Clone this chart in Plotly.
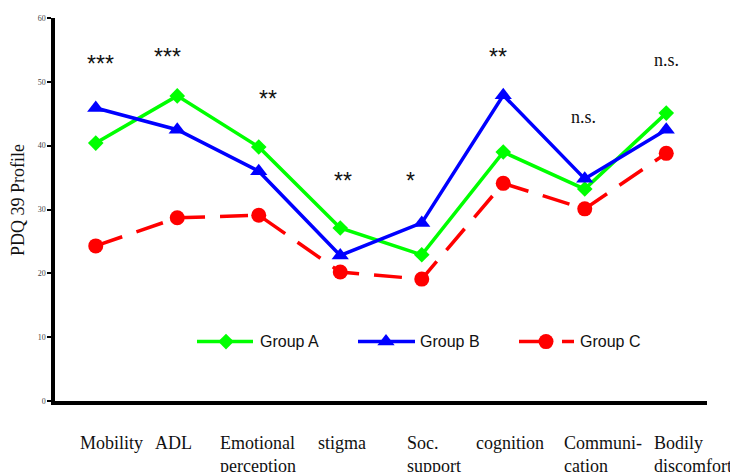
import plotly.graph_objects as go

categories = ["Mobility", "ADL", "Emotional<br>perception", "stigma", "Soc.<br>support",
              "cognition", "Communi-<br>cation", "Bodily<br>discomfort"]
group_a = [40.4, 47.8, 39.8, 27.1, 22.9, 39.0, 33.2, 45.1]
group_b = [45.9, 42.5, 36.0, 22.8, 27.9, 47.9, 34.8, 42.5]
group_c = [24.3, 28.7, 29.1, 20.2, 19.1, 34.1, 30.1, 38.8]
significance = ["***", "***", "**", "**", "*", "**", "n.s.", "n.s."]
sig_y = [53.2, 54.4, 47.8, 35.0, 35.0, 54.4, 44.0, 53.0]
y_ticks = [0, 10, 20, 30, 40, 50, 60]

# layout-only offsets (pixels)
label_xshift = [-18, -24, -41, -24, -17, -29, -23, -14]
sig_xshift = [5, -10, 9, 3, -11, -5, -1, 0]

xs = list(range(len(categories)))

GREEN = "#00FF00"
BLUE = "#0000FF"
RED = "#FF0000"

fig = go.Figure()
fig.add_trace(go.Scatter(x=xs, y=group_a, mode="lines+markers", name="Group A",
                         line=dict(color=GREEN, width=3.5),
                         marker=dict(symbol="diamond", size=12, color=GREEN),
                         showlegend=False))
fig.add_trace(go.Scatter(x=xs, y=group_b, mode="lines+markers", name="Group B",
                         line=dict(color=BLUE, width=3.5),
                         marker=dict(symbol="triangle-up", size=15, color=BLUE),
                         showlegend=False))
fig.add_trace(go.Scatter(x=xs, y=group_c, mode="lines+markers", name="Group C",
                         line=dict(color=RED, width=3.5, dash="28px,15px"),
                         marker=dict(symbol="circle", size=15, color=RED),
                         showlegend=False))

# page body has an 8px margin; plot area spans x 55..707, y 14..401 in the window
L = 55.0
W = 652.0
def fx(px):
    return (px - L) / W
leg_y = (401 - 341) / 387.0
legend_items = [
    ("Group A", GREEN, "diamond", 12, "solid", 197, 253, 226, 258),
    ("Group B", BLUE, "triangle-up", 15, "solid", 358, 415, 386, 418),
    ("Group C", RED, "circle", 15, "28px,15px", 519, 574, 546, 578),
]
for name, col, sym, sz, dash, x0, x1, xm, xt in legend_items:
    fig.add_trace(go.Scatter(x=[fx(x0), fx(x1)], y=[leg_y, leg_y], mode="lines",
                             line=dict(color=col, width=3.5, dash=dash),
                             xaxis="x2", yaxis="y2", showlegend=False, hoverinfo="skip"))
    fig.add_trace(go.Scatter(x=[fx(xm)], y=[leg_y], mode="markers",
                             marker=dict(symbol=sym, size=sz, color=col),
                             xaxis="x2", yaxis="y2", showlegend=False, hoverinfo="skip"))
    fig.add_annotation(x=fx(xt), y=leg_y, xref="x2", yref="y2", text=name,
                       showarrow=False, xanchor="left", yanchor="middle",
                       font=dict(family="Liberation Sans, Arial", size=16, color="#111"))

# category labels
for i, (lab, sh) in enumerate(zip(categories, label_xshift)):
    fig.add_annotation(x=i, y=0, xref="x", yref="paper", text=lab, showarrow=False,
                       xanchor="left", yanchor="top", align="left", xshift=sh, yshift=-30,
                       font=dict(family="Liberation Serif, Times New Roman", size=18, color="#111"))

# significance marks
for i, (s, yy, sh) in enumerate(zip(significance, sig_y, sig_xshift)):
    if s.startswith("*"):
        font = dict(family="Liberation Sans, Arial", size=23, color="#111")
        ysh = -3
    else:
        font = dict(family="Liberation Serif, Times New Roman", size=18, color="#111")
        ysh = 3
    fig.add_annotation(x=i, y=yy, xref="x", yref="y", text=s, showarrow=False,
                       xanchor="center", yanchor="middle", xshift=sh, yshift=ysh, font=font)

# y-axis title
fig.add_annotation(x=fx(18), y=(401 - 198) / 387.0, xref="paper", yref="paper",
                   text="PDQ 39 Profile", textangle=-90, showarrow=False,
                   xanchor="center", yanchor="middle",
                   font=dict(family="Liberation Serif, Times New Roman", size=18, color="#111"))

fig.update_layout(
    width=730, height=464,
    margin=dict(l=47, r=31, t=6, b=71),
    paper_bgcolor="white", plot_bgcolor="white",
    showlegend=False,
    xaxis=dict(range=[-0.5, 7.5], showgrid=False, zeroline=False, showticklabels=False,
               ticks="", showline=True, linecolor="black", linewidth=3.5, fixedrange=True),
    yaxis=dict(range=[0, 60], tickvals=y_ticks, showgrid=False, zeroline=False,
               showline=True, linecolor="black", linewidth=3.5, ticks="outside",
               ticklen=4, tickwidth=2, tickcolor="black",
               tickfont=dict(family="Liberation Serif, Times New Roman", size=8, color="#444")),
    xaxis2=dict(range=[0, 1], overlaying="x", visible=False, fixedrange=True),
    yaxis2=dict(range=[0, 1], overlaying="y", visible=False, fixedrange=True),
)

fig.write_html("out.html")
